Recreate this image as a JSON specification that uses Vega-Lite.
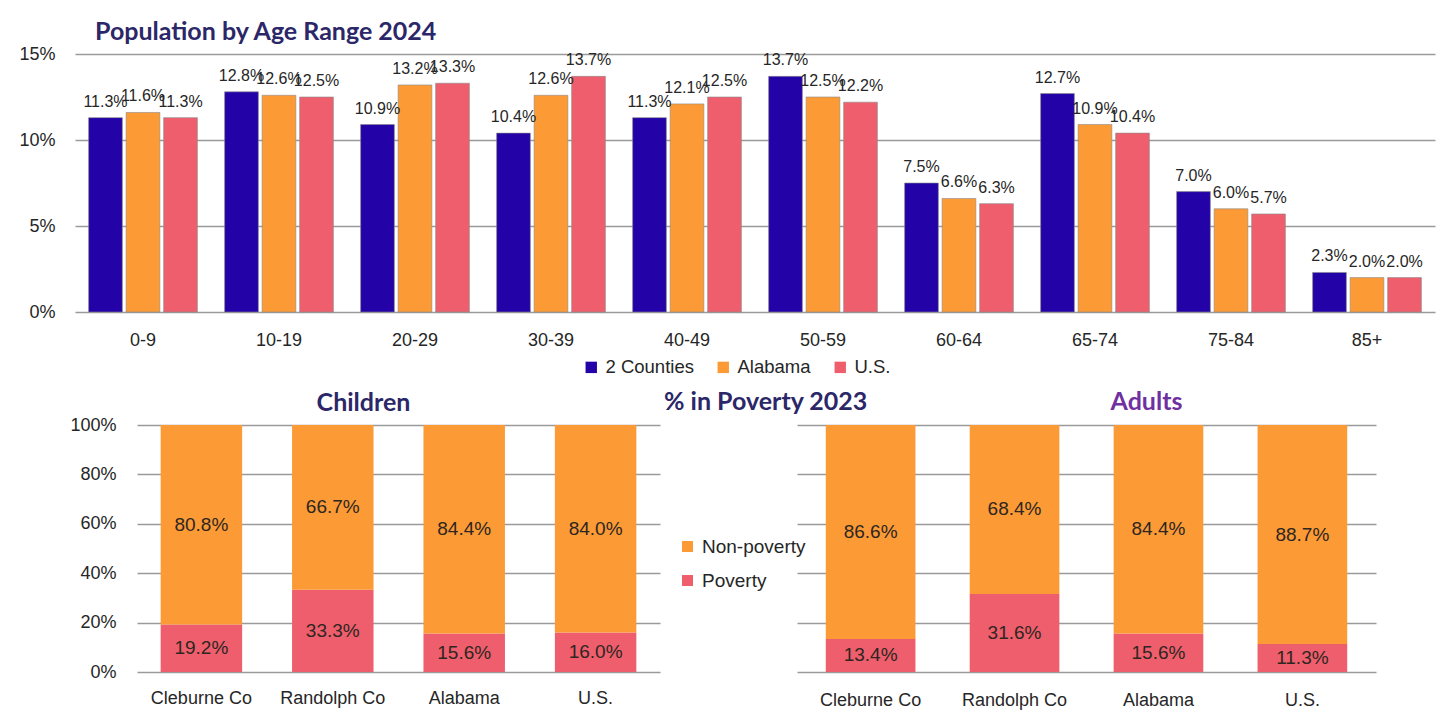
{
  "$schema": "https://vega.github.io/schema/vega-lite/v6.json",
  "padding": {"left": 18, "top": 20, "right": 5, "bottom": 5},
  "background": "white",
  "bounds": "flush",
  "spacing": 113,
  "resolve": {"scale": {"color": "independent", "x": "independent", "y": "independent"}, "legend": {"color": "independent"}},
  "config": {
    "view": {"stroke": null},
    "font": "Liberation Sans",
    "axis": {"labelColor": "#262626", "gridColor": "#9A9A9A", "gridWidth": 1.3, "domainColor": "#9A9A9A", "labelFont": "Liberation Sans"},
    "legend": {"labelFont": "Liberation Sans", "labelColor": "#262626"}
  },
  "vconcat": [
    {
      "width": 1360,
      "height": 258,
      "title": {"text": "Population by Age Range 2024", "anchor": "start", "frame": "group", "dx": 20, "offset": 0, "fontSize": 25, "font": "Lato", "fontWeight": "bold", "color": "#2B2768"},
      "data": {"values": [
        {"age": "0-9", "group": "2 Counties", "pct": 0.113},
        {"age": "0-9", "group": "Alabama", "pct": 0.116},
        {"age": "0-9", "group": "U.S.", "pct": 0.113},
        {"age": "10-19", "group": "2 Counties", "pct": 0.128},
        {"age": "10-19", "group": "Alabama", "pct": 0.126},
        {"age": "10-19", "group": "U.S.", "pct": 0.125},
        {"age": "20-29", "group": "2 Counties", "pct": 0.109},
        {"age": "20-29", "group": "Alabama", "pct": 0.132},
        {"age": "20-29", "group": "U.S.", "pct": 0.133},
        {"age": "30-39", "group": "2 Counties", "pct": 0.104},
        {"age": "30-39", "group": "Alabama", "pct": 0.126},
        {"age": "30-39", "group": "U.S.", "pct": 0.137},
        {"age": "40-49", "group": "2 Counties", "pct": 0.113},
        {"age": "40-49", "group": "Alabama", "pct": 0.121},
        {"age": "40-49", "group": "U.S.", "pct": 0.125},
        {"age": "50-59", "group": "2 Counties", "pct": 0.137},
        {"age": "50-59", "group": "Alabama", "pct": 0.125},
        {"age": "50-59", "group": "U.S.", "pct": 0.122},
        {"age": "60-64", "group": "2 Counties", "pct": 0.075},
        {"age": "60-64", "group": "Alabama", "pct": 0.066},
        {"age": "60-64", "group": "U.S.", "pct": 0.063},
        {"age": "65-74", "group": "2 Counties", "pct": 0.127},
        {"age": "65-74", "group": "Alabama", "pct": 0.109},
        {"age": "65-74", "group": "U.S.", "pct": 0.104},
        {"age": "75-84", "group": "2 Counties", "pct": 0.070},
        {"age": "75-84", "group": "Alabama", "pct": 0.060},
        {"age": "75-84", "group": "U.S.", "pct": 0.057},
        {"age": "85+", "group": "2 Counties", "pct": 0.023},
        {"age": "85+", "group": "Alabama", "pct": 0.020},
        {"age": "85+", "group": "U.S.", "pct": 0.020}
      ]},
      "encoding": {
        "x": {"field": "age", "type": "nominal", "sort": null, "scale": {"paddingInner": 0.2, "paddingOuter": 0.1},
              "axis": {"title": null, "labelAngle": 0, "labelFontSize": 18, "labelPadding": 19, "ticks": false, "domain": false}},
        "xOffset": {"field": "group", "type": "nominal", "sort": ["2 Counties", "Alabama", "U.S."], "scale": {"paddingInner": 0.1}},
        "y": {"field": "pct", "type": "quantitative", "scale": {"domain": [0, 0.15]},
              "axis": {"values": [0, 0.05, 0.1, 0.15], "format": ".0%", "title": null, "domain": false, "ticks": false, "labelPadding": 20, "labelFontSize": 18}}
      },
      "layer": [
        {
          "mark": {"type": "bar", "stroke": "#8a8a8a", "strokeWidth": 0.6},
          "encoding": {
            "color": {"field": "group", "type": "nominal", "sort": ["2 Counties", "Alabama", "U.S."],
                      "scale": {"domain": ["2 Counties", "Alabama", "U.S."], "range": ["#2303A8", "#FC9A36", "#EF5E6D"]},
                      "legend": {"title": null, "orient": "none", "legendX": 507, "legendY": 304, "direction": "horizontal",
                                 "symbolType": "square", "symbolSize": 130, "symbolStrokeWidth": 0, "labelFontSize": 18.5,
                                 "columnPadding": 20, "labelOffset": 5}}
          }
        },
        {
          "mark": {"type": "text", "baseline": "middle", "dy": -16, "fontSize": 16, "color": "#262626"},
          "encoding": {"text": {"field": "pct", "type": "quantitative", "format": ".1%"}}
        }
      ]
    },
    {
      "bounds": "flush",
      "spacing": 0,
      "resolve": {"scale": {"color": "independent", "x": "independent", "y": "independent"}, "legend": {"color": "independent"}},
      "hconcat": [
        {
          "width": 62, "height": 247,
          "data": {"values": [{}]},
          "mark": {"type": "text", "text": ""},
          "encoding": {}
        },
        {
          "width": 523, "height": 247,
          "title": {"text": "Children", "anchor": "middle", "dx": -35, "offset": 0, "fontSize": 25, "font": "Lato", "fontWeight": "bold", "color": "#2B2768"},
          "data": {"values": [
            {"place": "Cleburne Co", "type": "Poverty", "pct": 0.192},
            {"place": "Cleburne Co", "type": "Non-poverty", "pct": 0.808},
            {"place": "Randolph Co", "type": "Poverty", "pct": 0.333},
            {"place": "Randolph Co", "type": "Non-poverty", "pct": 0.667},
            {"place": "Alabama", "type": "Poverty", "pct": 0.156},
            {"place": "Alabama", "type": "Non-poverty", "pct": 0.844},
            {"place": "U.S.", "type": "Poverty", "pct": 0.160},
            {"place": "U.S.", "type": "Non-poverty", "pct": 0.840}
          ]},
          "encoding": {
            "x": {"field": "place", "type": "nominal", "sort": null, "scale": {"paddingInner": 0.38, "paddingOuter": 0.18},
                  "axis": {"title": null, "labelAngle": 0, "labelFontSize": 18, "labelPadding": 17, "ticks": false, "domain": false}},
            "order": {"field": "type", "sort": "descending"}
          },
          "layer": [
            {
              "mark": {"type": "bar"},
              "encoding": {
                "y": {"field": "pct", "type": "quantitative", "stack": "zero", "scale": {"domain": [0, 1]},
                      "axis": {"values": [0, 0.2, 0.4, 0.6, 0.8, 1], "format": ".0%", "title": null, "domain": false, "ticks": false, "labelPadding": 21, "labelFontSize": 18}},
                "color": {"field": "type", "type": "nominal",
                          "scale": {"domain": ["Non-poverty", "Poverty"], "range": ["#FC9A36", "#EF5E6D"]},
                          "legend": {"title": null, "orient": "none", "legendX": 541, "legendY": 112, "direction": "vertical",
                                     "symbolType": "square", "symbolSize": 120, "symbolStrokeWidth": 0, "labelFontSize": 19,
                                     "rowPadding": 14, "labelOffset": 5}}
              }
            },
            {
              "mark": {"type": "text", "baseline": "middle", "fontSize": 19, "color": "#2E2620"},
              "encoding": {
                "y": {"field": "pct", "type": "quantitative", "stack": "zero", "bandPosition": 0.5},
                "text": {"field": "pct", "type": "quantitative", "format": ".1%"}
              }
            }
          ]
        },
        {
          "width": 137, "height": 247,
          "title": {"text": "% in Poverty 2023", "anchor": "start", "dx": 4, "offset": 10, "fontSize": 25, "font": "Lato", "fontWeight": "bold", "color": "#2B2768"},
          "data": {"values": [{}]},
          "mark": {"type": "text", "text": ""},
          "encoding": {}
        },
        {
          "width": 579, "height": 247,
          "title": {"text": "Adults", "anchor": "middle", "dx": 60, "offset": 10, "fontSize": 25, "font": "Lato", "fontWeight": "bold", "color": "#7030A0"},
          "data": {"values": [
            {"place": "Cleburne Co", "type": "Poverty", "pct": 0.134},
            {"place": "Cleburne Co", "type": "Non-poverty", "pct": 0.866},
            {"place": "Randolph Co", "type": "Poverty", "pct": 0.316},
            {"place": "Randolph Co", "type": "Non-poverty", "pct": 0.684},
            {"place": "Alabama", "type": "Poverty", "pct": 0.156},
            {"place": "Alabama", "type": "Non-poverty", "pct": 0.844},
            {"place": "U.S.", "type": "Poverty", "pct": 0.113},
            {"place": "U.S.", "type": "Non-poverty", "pct": 0.887}
          ]},
          "encoding": {
            "x": {"field": "place", "type": "nominal", "sort": null, "scale": {"paddingInner": 0.377, "paddingOuter": 0.2},
                  "axis": {"title": null, "labelAngle": 0, "labelFontSize": 18, "labelPadding": 19, "ticks": false, "domain": false}},
            "order": {"field": "type", "sort": "descending"}
          },
          "layer": [
            {
              "mark": {"type": "bar"},
              "encoding": {
                "y": {"field": "pct", "type": "quantitative", "stack": "zero", "scale": {"domain": [0, 1]},
                      "axis": {"values": [0, 0.2, 0.4, 0.6, 0.8, 1], "labels": false, "title": null, "domain": false, "ticks": false}},
                "color": {"field": "type", "type": "nominal",
                          "scale": {"domain": ["Non-poverty", "Poverty"], "range": ["#FC9A36", "#EF5E6D"]},
                          "legend": null}
              }
            },
            {
              "mark": {"type": "text", "baseline": "middle", "fontSize": 19, "color": "#2E2620"},
              "encoding": {
                "y": {"field": "pct", "type": "quantitative", "stack": "zero", "bandPosition": 0.5},
                "text": {"field": "pct", "type": "quantitative", "format": ".1%"}
              }
            }
          ]
        }
      ]
    }
  ]
}
